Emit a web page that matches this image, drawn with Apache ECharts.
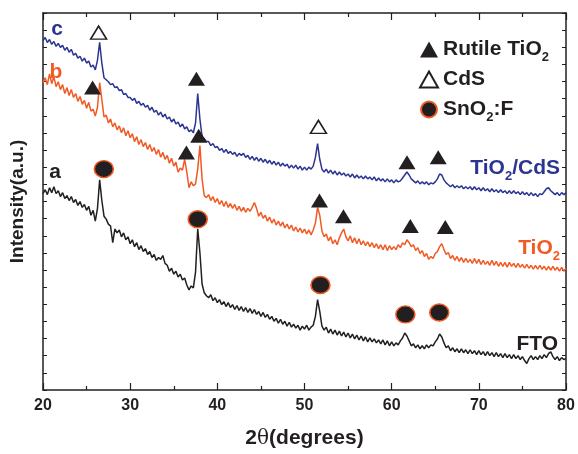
<!DOCTYPE html>
<html>
<head>
<meta charset="utf-8">
<script src="https://cdn.jsdelivr.net/npm/echarts@6/dist/echarts.min.js"></script>
<style>
html, body { margin: 0; padding: 0; background: #fff; }
#chart { width: 578px; height: 454px; }
</style>
</head>
<body>
<div id="chart"></div>
<script>
// sampling grid of the scan: 20..80 deg, 0.25 deg step
const START = 20;
const STEP = 0.25;

// intensity (a.u.), one value per step
const tio2Cds = [
  356,359,354,357,352,355,350,353,349,351,346,349,344,347,341,343,338,340,335,338,
  333,335,329,331,326,336,354,333,318,316,314,311,312,308,309,305,306,301,302,298,
  298,295,297,292,294,290,292,288,290,285,288,283,285,280,283,278,281,276,278,273,
  276,271,273,268,271,266,268,263,265,262,272,302,276,258,256,253,253,249,251,247,
  248,244,246,242,245,241,243,240,242,238,241,239,241,237,239,235,238,234,237,233,
  236,232,235,231,234,230,233,229,232,228,231,228,230,226,229,226,229,225,228,224,
  227,224,227,225,228,237,251,235,225,222,225,221,224,220,223,219,222,219,221,218,
  220,217,220,216,219,216,218,215,218,215,217,214,217,213,216,213,215,212,215,212,
  214,211,214,212,213,216,219,222,219,215,213,211,213,210,212,210,212,209,211,210,
  212,215,220,219,214,211,209,207,209,206,208,206,208,205,207,205,207,204,207,204,
  206,203,206,203,205,202,205,202,204,201,204,201,203,200,203,200,203,200,202,199,
  202,199,201,198,201,198,200,197,200,199,202,205,206,203,201,199,201,198,201,199,
  201
];
const tio2 = [
  313,318,311,322,312,319,309,314,306,311,302,308,300,306,298,302,294,299,291,295,
  287,293,284,286,279,288,313,296,278,280,272,276,268,272,265,269,262,267,259,264,
  257,261,253,258,250,255,248,252,245,250,243,247,240,245,237,242,235,239,231,236,
  228,232,222,226,224,235,222,206,212,208,210,225,249,215,198,196,199,193,197,191,
  195,189,193,187,192,186,190,185,189,183,187,182,186,181,185,182,186,191,185,177,
  181,175,178,172,176,170,174,168,172,167,171,165,169,164,168,162,166,161,165,160,
  164,159,163,158,163,170,186,178,162,156,159,152,156,149,153,148,155,160,164,156,
  152,157,150,155,149,154,148,152,147,151,146,150,145,149,144,148,143,148,142,147,
  143,146,143,148,145,150,148,153,150,146,148,142,145,139,142,136,139,133,136,134,
  139,141,146,149,143,138,140,134,137,132,136,131,135,130,134,130,133,129,134,129,
  133,128,132,128,131,127,132,127,131,126,130,126,130,125,130,126,129,125,129,125,
  128,124,128,124,127,123,127,123,127,123,126,122,126,122,126,122,125,121,125,121,
  124
];
const fto = [
  200,204,199,206,201,207,200,203,197,201,195,198,193,197,191,194,188,192,186,189,
  183,187,178,183,172,185,214,193,177,174,169,167,150,164,160,163,156,160,153,156,
  149,153,146,150,143,147,141,144,138,141,135,138,132,135,133,137,129,127,121,124,
  118,121,115,118,112,114,107,102,106,104,120,164,140,108,99,96,94,97,91,94,
  89,92,87,90,85,89,84,87,82,86,81,85,80,84,79,83,78,82,77,80,
  75,79,74,77,72,75,70,73,68,72,67,70,65,69,64,67,63,66,61,65,
  62,66,61,64,66,75,92,80,65,61,64,58,62,57,61,56,60,55,59,54,
  58,53,57,52,56,51,55,50,54,49,53,49,52,48,51,47,51,46,50,45,
  49,45,48,46,50,53,58,55,50,45,47,43,46,42,45,42,46,43,46,45,
  49,52,57,54,48,43,45,40,43,39,42,38,42,38,41,37,41,37,40,36,
  40,36,39,35,39,35,38,34,38,34,37,33,37,33,36,32,36,32,35,31,
  34,30,27,32,35,31,34,31,35,32,36,33,37,39,34,31,34,30,33,31,
  32
];

// phase markers [2theta, height]
const rutileMarks = [[25.69,308],[37.6,317],[36.45,242],[37.86,259],[51.72,193],[54.47,177],[61.76,232],[65.34,237],[62.14,167],[66.15,166]];
const cdsMarks = [[26.38,364],[51.6,268]];
const ftoMarks = [[26.98,225],[37.75,174],[51.83,107],[61.57,77],[65.46,79]];

const BLUE = '#2b3590';
const ORANGE = '#f15a24';
const BLACK = '#231f20';
const FONT = '"Liberation Sans", Arial, sans-serif';

function pairs(arr) {
  return arr.map((v, i) => [START + i * STEP, v]);
}

const chart = echarts.init(document.getElementById('chart'), null, { renderer: 'canvas' });

const xCommon = {
  type: 'value', min: 20, max: 80, interval: 10,
  axisLine: { onZero: false, lineStyle: { color: BLACK, width: 1.5 } },
  axisTick: { inside: true, length: 7, lineStyle: { color: BLACK, width: 1.2 } },
  minorTick: { show: true, splitNumber: 2, length: 4, lineStyle: { color: BLACK, width: 1.2 } },
  splitLine: { show: false }
};
const yCommon = {
  type: 'value', min: 0, max: 384, interval: 384 / 22,
  axisLine: { show: true, onZero: false, lineStyle: { color: BLACK, width: 1.5 } },
  axisTick: { show: true, inside: true, length: 4, lineStyle: { color: BLACK, width: 1 } },
  axisLabel: { show: false },
  splitLine: { show: false }
};

const bigText = { fontFamily: FONT, fontSize: 21, fontWeight: 'bold' };
const subText = { fontFamily: FONT, fontSize: 13, fontWeight: 'bold' };

function labelText(x, y, parts, color, align) {
  return {
    type: 'text', x: x, y: y, z: 10,
    style: {
      text: parts, fill: color, align: align, textAlign: align,
      verticalAlign: 'middle', textVerticalAlign: 'middle',
      font: 'bold 21px ' + FONT,
      rich: {
        m: Object.assign({ fill: color, lineHeight: 24 }, bigText),
        s: Object.assign({ fill: color, lineHeight: 13, padding: [16, 0, 0, 0] }, subText)
      }
    }
  };
}

chart.setOption({
  animation: false,
  grid: { left: 42, right: 12, top: 13, bottom: 57 },
  xAxis: [
    Object.assign({}, xCommon, {
      position: 'bottom',
      axisLabel: { color: BLACK, fontSize: 16, fontWeight: 'bold', fontFamily: FONT, margin: 8 },
      name: '{b|2}{t|θ}{b|(degrees)}',
      nameLocation: 'middle', nameGap: 38,
      nameTextStyle: {
        rich: {
          b: { fontFamily: FONT, fontSize: 21, fontWeight: 'bold', color: BLACK },
          t: { fontFamily: '"DejaVu Serif", serif', fontSize: 20, color: BLACK }
        }
      }
    }),
    Object.assign({}, xCommon, { position: 'top', axisLabel: { show: false } })
  ],
  yAxis: [
    Object.assign({}, yCommon, {
      position: 'left',
      name: 'Intensity(a.u.)', nameLocation: 'middle', nameGap: 16, nameRotate: 90,
      nameTextStyle: { fontFamily: FONT, fontSize: 19, fontWeight: 'bold', color: BLACK }
    }),
    Object.assign({}, yCommon, { position: 'right' })
  ],
  legend: {
    data: ['Rutile TiO2', 'CdS', 'SnO2:F'],
    orient: 'vertical', left: 414, top: 30,
    itemWidth: 18, itemHeight: 16, itemGap: 5,
    selectedMode: false,
    formatter: function (name) {
      if (name === 'Rutile TiO2') return '{m|Rutile TiO}{s|2}';
      if (name === 'SnO2:F') return '{m|SnO}{s|2}{m|:F}';
      return '{m|' + name + '}';
    },
    textStyle: {
      color: BLACK,
      rich: {
        m: Object.assign({ color: BLACK, lineHeight: 24 }, bigText),
        s: Object.assign({ color: BLACK, lineHeight: 13, padding: [16, 0, 0, 0] }, subText)
      }
    }
  },
  series: [
    { name: 'FTO', type: 'line', data: pairs(fto), showSymbol: false, lineStyle: { color: BLACK, width: 1.5 }, itemStyle: { color: BLACK } },
    { name: 'TiO2', type: 'line', data: pairs(tio2), showSymbol: false, lineStyle: { color: ORANGE, width: 1.5 }, itemStyle: { color: ORANGE } },
    { name: 'TiO2/CdS', type: 'line', data: pairs(tio2Cds), showSymbol: false, lineStyle: { color: BLUE, width: 1.5 }, itemStyle: { color: BLUE } },
    { name: 'Rutile TiO2', type: 'scatter', data: rutileMarks, symbol: 'triangle', symbolSize: [17, 14], z: 5,
      itemStyle: { color: BLACK, opacity: 1 } },
    { name: 'CdS', type: 'scatter', data: cdsMarks, symbol: 'triangle', symbolSize: [16, 13], z: 5,
      itemStyle: { color: '#ffffff', borderColor: BLACK, borderWidth: 1.5, opacity: 1 } },
    { name: 'SnO2:F', type: 'scatter', data: ftoMarks, symbol: 'circle', symbolSize: [19, 17], z: 5,
      itemStyle: { color: BLACK, borderColor: ORANGE, borderWidth: 1.5, opacity: 1 } }
  ],
  graphic: [
    labelText(57, 29, '{m|c}', BLUE, 'center'),
    labelText(56, 72, '{m|b}', ORANGE, 'center'),
    labelText(55, 172, '{m|a}', BLACK, 'center'),
    labelText(560, 168, '{m|TiO}{s|2}{m|/CdS}', BLUE, 'right'),
    labelText(560, 248, '{m|TiO}{s|2}', ORANGE, 'right'),
    labelText(558, 344, '{m|FTO}', BLACK, 'right')
  ]
});
</script>
</body>
</html>
